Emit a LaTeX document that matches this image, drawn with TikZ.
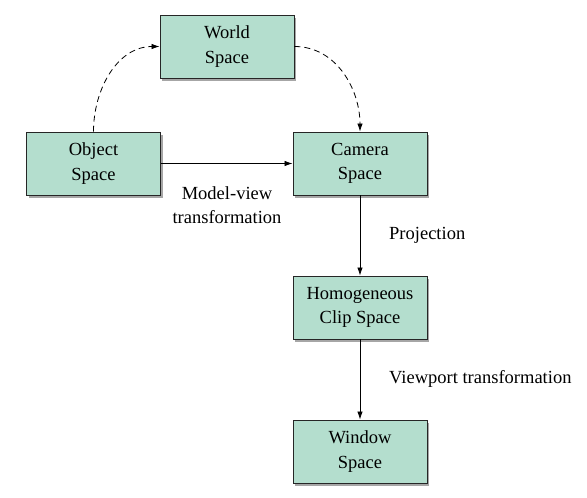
\documentclass[tikz,border=0pt]{standalone}
\usepackage{fontspec}
\setmainfont{Liberation Serif}
\usetikzlibrary{arrows.meta,shadows}
\definecolor{boxfill}{RGB}{180,222,206}
\begin{document}
\begin{tikzpicture}[x=1pt,y=-1pt,
  spacebox/.style={draw=black!85,line width=0.9pt,fill=boxfill,minimum width=134pt,minimum height=63pt,inner sep=0pt,align=center,
    font=\fontsize{18.5}{24.5}\selectfont,
    drop shadow={shadow xshift=2pt,shadow yshift=-2.5pt,fill=black,opacity=0.35}},
  lbl/.style={font=\fontsize{18.5}{24.5}\selectfont,inner sep=0pt,align=center},
  arr/.style={line width=0.8pt,-{Latex[length=8pt,width=5.5pt]}},
  darr/.style={arr,dash pattern=on 6pt off 4pt}]
\useasboundingbox (0,0) rectangle (587,498);
\node[spacebox] (world) at (227,46.5) {World\\Space};
\node[spacebox] (object) at (93.5,163.5) {Object\\Space};
\node[spacebox] (camera) at (360,163.5) {Camera\\Space};
\node[spacebox] (clip) at (360,307.5) {Homogeneous\\Clip Space};
\node[spacebox] (window) at (360,451.5) {Window\\Space};
\draw[darr] (object.north) to[out=90,in=180] (world.west);
\draw[darr] (world.east) to[out=0,in=90] (camera.north);
\draw[arr] (object) -- (camera);
\draw[arr] (camera) -- (clip);
\draw[arr] (clip) -- (window);
\node[lbl] (mv) at (227,205) {Model-view\\transformation};
\node[lbl,anchor=west] (proj) at (389,235) {Projection};
\node[lbl,anchor=west] (vp) at (389,379) {Viewport transformation};
\end{tikzpicture}
\end{document}
